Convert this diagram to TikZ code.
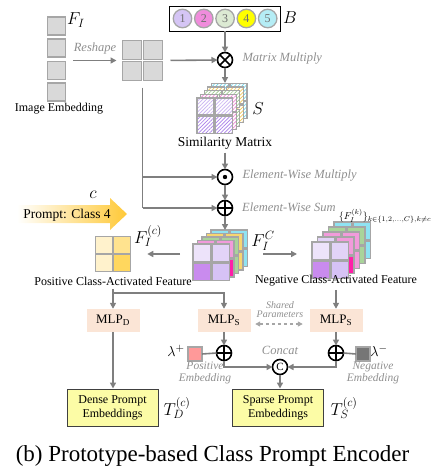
\documentclass[tikz,border=0pt]{standalone}
\usepackage{fontspec}
\setmainfont{Liberation Serif}
\usetikzlibrary{arrows.meta,patterns.meta}

\definecolor{cellgray}{HTML}{A6A6A6}
\definecolor{cellfill}{HTML}{D9D9D9}
\definecolor{arrowgray}{HTML}{7F7F7F}
\definecolor{labelgray}{HTML}{8F8F8F}
\definecolor{numgray}{HTML}{707070}
\definecolor{mlpfill}{HTML}{FBE5D6}
\definecolor{boxfill}{HTML}{FCFCA6}
\definecolor{boxline}{HTML}{404040}
\definecolor{promptgold}{HTML}{FFC937}
% class colours
\definecolor{cone}{HTML}{D5C5F5}
\definecolor{ctwo}{HTML}{F08CDC}
\definecolor{cthree}{HTML}{DCEAD3}
\definecolor{cfour}{HTML}{FFFF00}
\definecolor{cfive}{HTML}{B5EDF5}
% layer colours of the feature stacks
\definecolor{lcyan}{HTML}{8FE3F2}
\definecolor{lyellow}{HTML}{F7D670}
\definecolor{lgreen}{HTML}{A9D49A}
\definecolor{lpink}{HTML}{F29BDB}
\definecolor{hotpink}{HTML}{FF1FA8}
\definecolor{lavA}{HTML}{EDE3FA}
\definecolor{lavB}{HTML}{E2D3F7}
\definecolor{lavC}{HTML}{C98BEE}
\definecolor{lavD}{HTML}{D6C2F5}
\definecolor{hatchA}{HTML}{C9B2F2}
\definecolor{hatchB}{HTML}{A97EEA}
\definecolor{hcyan}{HTML}{6ED6EC}
\definecolor{hyellow}{HTML}{F2C85A}
\definecolor{hgreen}{HTML}{9CCB8C}
\definecolor{hpink}{HTML}{EE7FD2}
% positive feature colours
\definecolor{yA}{HTML}{FFF2CC}
\definecolor{yB}{HTML}{FFE38F}
\definecolor{yC}{HTML}{FFD75E}

% one 2x2 layer: top-left corner, cell size, styles of the four cells
\newcommand{\cellquad}[7]{%
  \pgfmathsetmacro{\qb}{#3+1.5}%
  \path[cell,#4] (#1,#2) rectangle ++(#3,#3);
  \path[cell,#5] ({#1+\qb},#2) rectangle ++(#3,#3);
  \path[cell,#6] (#1,{#2+\qb}) rectangle ++(#3,#3);
  \path[cell,#7] ({#1+\qb},{#2+\qb}) rectangle ++(#3,#3);
}

\begin{document}
\begin{tikzpicture}[x=1pt,y=-1pt,
  sq/.style={draw=cellgray, fill=cellfill, line width=1.4pt, minimum size=18pt, inner sep=0pt, outer sep=0pt},
  cell/.style={draw=cellgray, line width=1.2pt},
  hatch/.style={preaction={fill=white}, pattern={Lines[angle=45,distance=2.6pt,line width=0.7pt]}, pattern color=#1},
  ghost/.style={inner sep=0pt, outer sep=0pt},
  conn/.style={draw=arrowgray, line width=1.6pt},
  arr/.style={conn, -{Triangle[length=6pt,width=6pt]}},
  op/.style={circle, draw=black, line width=1.6pt, minimum size=15pt, inner sep=0pt, outer sep=0pt},
  note/.style={font=\itshape\fontsize{12.5}{13}\selectfont, text=labelgray},
  smallnote/.style={font=\itshape\fontsize{11.5}{12}\selectfont, text=labelgray, align=center},
  lbl/.style={font=\fontsize{12}{13}\selectfont},
  sym/.style={font=\fontsize{17}{17}\selectfont},
  mlp/.style={fill=mlpfill, minimum width=53pt, minimum height=23pt, inner sep=0pt, font=\fontsize{13}{13}\selectfont},
  outbox/.style={draw=boxline, fill=boxfill, line width=1pt, minimum width=91pt, minimum height=37pt, align=center, inner sep=0pt, font=\fontsize{12}{14}\selectfont},
  ball/.style={circle, draw=cellgray, line width=1.3pt, minimum size=18.5pt, inner sep=0pt, text=numgray, font=\fontsize{12}{12}\selectfont}
]
\useasboundingbox (0,0) rectangle (438,475);

% ---------- image embedding column ----------
\foreach \i/\yy in {1/26,2/48,3/70.5,4/92}
  \node[sq] (e\i) at (56.5,\yy) {};
\node[ghost, minimum width=19pt, minimum height=84pt] (col) at (56.5,59.5) {};
\node[sym] (FI) at (76,20) {$F_I$};
\node[lbl] (imgemb) at (59,109) {Image Embedding};

% ---------- reshaped 2x2 grid ----------
\node[sq, minimum size=19pt] (g1) at (132,50) {};
\node[sq, minimum size=19pt] (g2) at (153,50) {};
\node[sq, minimum size=19pt] (g3) at (132,71) {};
\node[sq, minimum size=19pt] (g4) at (153,71) {};
\node[ghost, minimum size=42pt] (grid) at (142.5,60.5) {};
\draw[arr, shorten <=7pt, shorten >=5pt] (col.east |- grid.west) -- (grid.west);
\node[note] (reshape) at (95,48) {Reshape};

% ---------- class prototypes B ----------
\node[draw=black, line width=0.8pt, minimum width=111pt, minimum height=25pt, inner sep=0pt] (B) at (225,18.5) {};
\foreach \i/\c in {1/cone,2/ctwo,3/cthree,4/cfour,5/cfive}
  \node[ball, fill=\c] (b\i) at ({182.5+21.3*(\i-1)},18.5) {\i};
\node[sym] (Blbl) at (290,18) {$B$};

% ---------- matrix multiply ----------
\node[op] (mm) at (225,60) {};
\draw[line width=1.6pt] (mm.north east) -- (mm.south west) (mm.north west) -- (mm.south east);
\node[note, anchor=west] (mmlbl) at (239,59) {Matrix Multiply};
\draw[arr] (B.south) -- (mm.north);
\draw[arr, shorten <=7pt] (grid.east) -- (mm.west);

% ---------- similarity matrix stack ----------
\foreach \k/\c in {4/hcyan,3/hyellow,2/hgreen,1/hpink}
  {\cellquad{197+3.6*\k}{98-3.7*\k}{17}{hatch=\c}{hatch=\c}{hatch=\c}{hatch=\c}}
\cellquad{197}{98}{17}{hatch=hatchA}{hatch=hatchA}{hatch=hatchB}{hatch=hatchB}
\node[ghost, minimum width=50pt, minimum height=51pt] (S) at (222,108.5) {};
\node[sym] (Slbl) at (258,109) {$S$};
\node[font=\fontsize{13.5}{14}\selectfont] (simlbl) at (225,143) {Similarity Matrix};
\draw[arr] (mm.south) -- (mm.south |- S.north);

% ---------- element-wise operations ----------
\node[op] (mul) at (225,177) {};
\fill (mul.center) circle (2.2pt);
\node[op] (add) at (225,208) {};
\draw[line width=1.6pt] (add.north) -- (add.south) (add.west) -- (add.east);
\node[note, anchor=west] (mullbl) at (239,176) {Element-Wise Multiply};
\node[note, anchor=west, inner sep=0pt] (addlbl) at (242,207) {Element-Wise Sum};
\draw[arr] (simlbl.south) -- (mul.north);
\draw[arr] (mul.south) -- (add.north);
\draw[conn, shorten <=6pt] (grid.south) -- (grid.south |- add.west);
\draw[arr] (grid.south |- mul.west) -- (mul.west);
\draw[arr] (grid.south |- add.west) -- (add.west);

% ---------- prompt arrow ----------
\shade[left color=white, right color=promptgold]
  (17,205) -- (110,205) -- (110,198) -- (127,214) -- (110,230) -- (110,223) -- (17,223) -- cycle;
\node[font=\fontsize{13.5}{14}\selectfont] (prompt) at (67,215) {Prompt: Class 4};
\node[sym] (clbl) at (93,195) {$c$};

% ---------- class-activated feature stack ----------
\cellquad{193+4.5*4}{244-3.5*4}{17.5}{fill=lcyan}{fill=lcyan}{fill=lcyan}{fill=lcyan}
\cellquad{193+4.5*3}{244-3.5*3}{17.5}{fill=lyellow}{fill=lyellow}{fill=lyellow}{fill=lyellow}
\cellquad{193+4.5*2}{244-3.5*2}{17.5}{fill=lgreen}{fill=lgreen}{fill=lgreen}{fill=lgreen}
\cellquad{193+4.5*1}{244-3.5*1}{17.5}{fill=lpink}{fill=lpink}{fill=lpink}{fill=hotpink}
\cellquad{193}{244}{17.5}{fill=lavA}{fill=lavB}{fill=lavC}{fill=lavD}
\node[ghost, minimum width=55pt, minimum height=51pt] (FC) at (220.5,255.5) {};
\node[sym] (FClbl) at (263,241) {$F_I^C$};
\draw[arr] (add.south) -- (add.south |- FC.north);

% ---------- positive class-activated feature ----------
\node[sq, minimum size=16.5pt, line width=1.2pt, fill=yA] (p1) at (104,245) {};
\node[sq, minimum size=16.5pt, line width=1.2pt, fill=yB] (p2) at (122,245) {};
\node[sq, minimum size=16.5pt, line width=1.2pt, fill=yA] (p3) at (104,263) {};
\node[sq, minimum size=16.5pt, line width=1.2pt, fill=yC] (p4) at (122,263) {};
\node[ghost, minimum size=34.5pt] (pos) at (113,254) {};
\node[sym] (poslbl) at (148,236) {$F_I^{(c)}$};
\node[lbl] (posname) at (113,281) {Positive Class-Activated Feature};

% ---------- negative class-activated feature ----------
\cellquad{312+5.5*4}{242-5*4}{17.5}{fill=lcyan}{fill=lcyan}{fill=lcyan}{fill=lcyan}
\cellquad{312+5.5*3}{242-5*3}{17.5}{fill=lgreen}{fill=lgreen}{fill=lgreen}{fill=lgreen}
\cellquad{312+5.5*2}{242-5*2}{17.5}{fill=lpink}{fill=lpink}{fill=lpink}{fill=lpink}
\cellquad{312+5.5*1}{242-5*1}{17.5}{fill=lavB}{fill=lpink}{fill=lavD}{fill=hotpink}
\cellquad{312}{242}{17.5}{fill=lavA}{fill=lavB}{fill=lavC}{fill=lavD}
\node[ghost, minimum width=58pt, minimum height=58pt] (Neg) at (341,251) {};
\node[font=\fontsize{10}{10}\selectfont, inner sep=0pt] (neglbl) at (385,216) {$\{F_I^{(k)}\}_{k\in\{1,2,\dots,C\},k\neq c}$};
\node[lbl] (negname) at (336,281) {Negative Class-Activated Feature};

\draw[arr, shorten <=13pt, shorten >=17pt] (FC.west |- pos.east) -- (pos.east);
\draw[arr, shorten <=15pt, shorten >=15pt] (FC.east |- pos.east) -- (Neg.west |- pos.east);

% ---------- MLPs ----------
\node[mlp] (mlpd) at (113,320.5) {MLP\textsubscript{D}};
\node[mlp] (mlps1) at (224,320.5) {MLP\textsubscript{S}};
\node[mlp] (mlps2) at (336,320.5) {MLP\textsubscript{S}};
\coordinate (branch) at (113,293);
\draw[arr] (posname.south) -- (mlpd.north);
\draw[arr] (branch) -| (mlps1.north);
\draw[arr] (negname.south) -- (mlps2.north);
\node[font=\itshape\fontsize{10}{9}\selectfont, text=labelgray, align=center] (shared) at (280,310) {Shared\\Parameters};
\draw[draw=cellgray, line width=1.2pt, dashed, {Triangle[length=5pt,width=5pt]}-{Triangle[length=5pt,width=5pt]}, shorten <=4.5pt, shorten >=6.5pt]
  ([yshift=-3.5pt]mlps1.east) -- ([yshift=-3.5pt]mlps2.west);

% ---------- embeddings and concat ----------
\node[op] (plus1) at (224,353) {};
\draw[line width=1.6pt] (plus1.north) -- (plus1.south) (plus1.west) -- (plus1.east);
\node[op] (plus2) at (336,353) {};
\draw[line width=1.6pt] (plus2.north) -- (plus2.south) (plus2.west) -- (plus2.east);
\draw[arr] (mlps1.south) -- (plus1.north);
\draw[arr] (mlps2.south) -- (plus2.north);

\node[sq, minimum size=14pt, fill={rgb,255:red,255;green,153;blue,153}] (pe) at (195,354) {};
\node[sq, minimum size=14pt, fill={rgb,255:red,118;green,118;blue,118}] (ne) at (363,354) {};
\node[font=\fontsize{15}{15}\selectfont] (lp) at (176,351) {$\lambda^{+}$};
\node[font=\fontsize{15}{15}\selectfont] (lm) at (379,351) {$\lambda^{-}$};
\draw[conn] (pe.east) -- (plus1.west);
\draw[conn] (plus2.east) -- (ne.west);
\node[smallnote] (pelbl) at (205,373) {Positive\\Embedding};
\node[smallnote] (nelbl) at (373,373) {Negative\\Embedding};

\node[op, font=\fontsize{11}{11}\selectfont] (cc) at (280,367) {C};
\node[note] (cclbl) at (280,350) {Concat};
\draw[arr] (plus1.south) |- (cc.west);
\draw[arr] (plus2.south) |- (cc.east);

% ---------- prompt embeddings ----------
\node[outbox] (dense) at (112.5,407.5) {Dense Prompt\\Embeddings};
\node[outbox] (sparse) at (278,407.5) {Sparse Prompt\\Embeddings};
\node[sym] (TD) at (177,408) {$T_D^{(c)}$};
\node[sym] (TS) at (344,408) {$T_S^{(c)}$};
\draw[arr] (mlpd.south) -- (mlpd.south |- dense.north);
\draw[arr] (cc.south) -- (cc.south |- sparse.north);

% ---------- caption ----------
\node[font=\fontsize{23}{23}\selectfont] (cap) at (212.5,456) {(b) Prototype-based Class Prompt Encoder};
\end{tikzpicture}
\end{document}
